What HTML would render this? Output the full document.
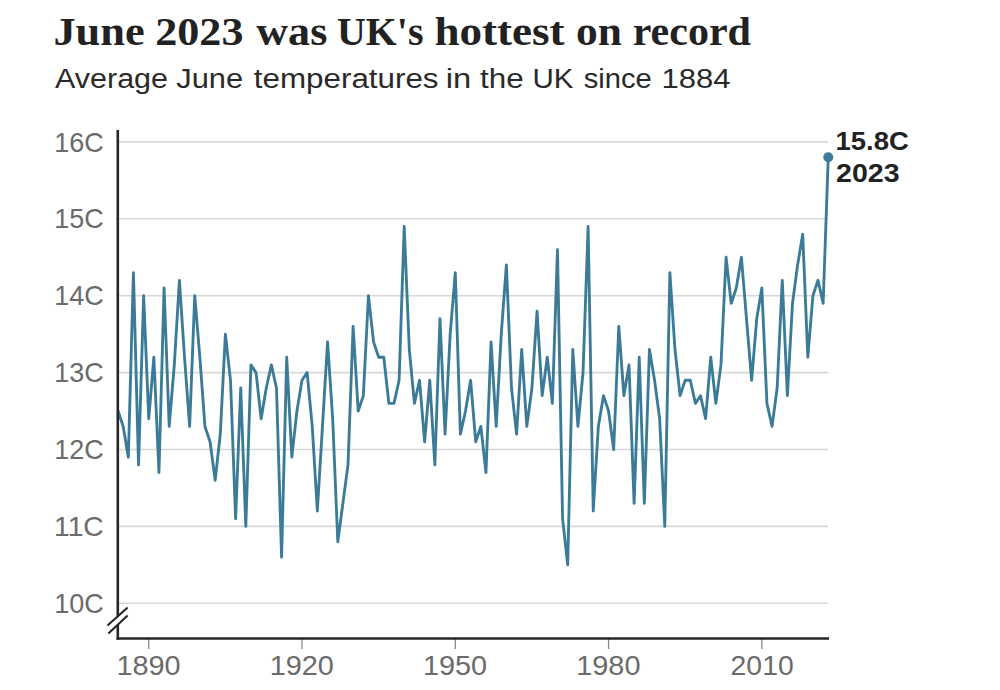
<!DOCTYPE html>
<html><head><meta charset="utf-8"><title>June 2023 was UK's hottest on record</title>
<style>
html,body{margin:0;padding:0;background:#fff;}
body{width:1000px;height:690px;position:relative;overflow:hidden;font-family:"Liberation Sans",sans-serif;}
svg{position:absolute;left:0;top:0;display:block;}
text{font-family:"Liberation Sans",sans-serif;}
text.t{font-family:"Liberation Serif",serif;font-weight:bold;font-size:41px;fill:#222;}
text.s{font-size:28px;fill:#2a2a2a;}
text.a{font-size:27px;fill:#6b6b6b;}
text.e{font-size:25px;font-weight:bold;fill:#222;}
</style></head><body>
<svg width="1000" height="690" viewBox="0 0 1000 690">
<g stroke="#d8d8d8" stroke-width="1.6"><line x1="119" x2="828" y1="603.30" y2="603.30"/><line x1="119" x2="828" y1="526.40" y2="526.40"/><line x1="119" x2="828" y1="449.50" y2="449.50"/><line x1="119" x2="828" y1="372.60" y2="372.60"/><line x1="119" x2="828" y1="295.70" y2="295.70"/><line x1="119" x2="828" y1="218.80" y2="218.80"/><line x1="119" x2="828" y1="141.90" y2="141.90"/></g>
<g stroke="#888" stroke-width="1.3"><line x1="148.75" x2="148.75" y1="639" y2="649"/><line x1="302.02" x2="302.02" y1="639" y2="649"/><line x1="455.29" x2="455.29" y1="639" y2="649"/><line x1="608.56" x2="608.56" y1="639" y2="649"/><line x1="761.83" x2="761.83" y1="639" y2="649"/></g>
<polyline fill="none" stroke="#3b7b98" stroke-width="2.85" stroke-linejoin="round" stroke-linecap="round" points="118.10,411.05 123.21,426.43 128.32,457.19 133.43,272.63 138.54,464.88 143.64,295.70 148.75,418.74 153.86,357.22 158.97,472.57 164.08,288.01 169.19,426.43 174.30,364.91 179.41,280.32 184.52,357.22 189.63,426.43 194.74,295.70 199.84,357.22 204.95,426.43 210.06,441.81 215.17,480.26 220.28,434.12 225.39,334.15 230.50,380.29 235.61,518.71 240.72,387.98 245.82,526.40 250.93,364.91 256.04,372.60 261.15,418.74 266.26,387.98 271.37,364.91 276.48,387.98 281.59,557.16 286.70,357.22 291.81,457.19 296.91,411.05 302.02,380.29 307.13,372.60 312.24,426.43 317.35,511.02 322.46,426.43 327.57,341.84 332.68,418.74 337.79,541.78 342.90,503.33 348.00,464.88 353.11,326.46 358.22,411.05 363.33,395.67 368.44,295.70 373.55,341.84 378.66,357.22 383.77,357.22 388.88,403.36 393.99,403.36 399.10,380.29 404.20,226.49 409.31,349.53 414.42,403.36 419.53,380.29 424.64,441.81 429.75,380.29 434.86,464.88 439.97,318.77 445.08,434.12 450.18,334.15 455.29,272.63 460.40,434.12 465.51,411.05 470.62,380.29 475.73,441.81 480.84,426.43 485.95,472.57 491.06,341.84 496.17,426.43 501.27,334.15 506.38,264.94 511.49,387.98 516.60,434.12 521.71,349.53 526.82,426.43 531.93,387.98 537.04,311.08 542.15,395.67 547.26,357.22 552.37,403.36 557.47,249.56 562.58,518.71 567.69,564.85 572.80,349.53 577.91,426.43 583.02,372.60 588.13,226.49 593.24,511.02 598.35,426.43 603.46,395.67 608.56,411.05 613.67,449.50 618.78,326.46 623.89,395.67 629.00,364.91 634.11,503.33 639.22,357.22 644.33,503.33 649.44,349.53 654.55,380.29 659.65,418.74 664.76,526.40 669.87,272.63 674.98,349.53 680.09,395.67 685.20,380.29 690.31,380.29 695.42,403.36 700.53,395.67 705.63,418.74 710.74,357.22 715.85,403.36 720.96,364.91 726.07,257.25 731.18,303.39 736.29,288.01 741.40,257.25 746.51,318.77 751.62,380.29 756.73,318.77 761.83,288.01 766.94,403.36 772.05,426.43 777.16,387.98 782.27,280.32 787.38,395.67 792.49,303.39 797.60,264.94 802.71,234.18 807.82,357.22 812.92,295.70 818.03,280.32 823.14,303.39 828.25,157.28"/>
<circle cx="828.25" cy="157.28" r="5" fill="#3b7b98"/>
<line x1="117.8" x2="117.8" y1="130" y2="639.8" stroke="#262626" stroke-width="2.6"/>
<line x1="116.5" x2="829" y1="638.5" y2="638.5" stroke="#262626" stroke-width="2.6"/>
<g stroke="#fff" stroke-width="5"><line x1="108" y1="629.5" x2="128" y2="611.5"/></g>
<g stroke="#222" stroke-width="2"><line x1="107.5" y1="625.4" x2="127.6" y2="607.4"/><line x1="108.4" y1="633.5" x2="127.6" y2="615.5"/></g>
<text class="t" transform="translate(53.42,45.00) scale(1.0830,1)">June</text>
<text class="t" transform="translate(155.22,45.00) scale(1.0770,1)">2023</text>
<text class="t" transform="translate(256.30,45.00) scale(1.0744,1)">was</text>
<text class="t" transform="translate(337.03,45.00) scale(0.9725,1)">UK's</text>
<text class="t" transform="translate(434.40,45.00) scale(1.0997,1)">hottest</text>
<text class="t" transform="translate(575.94,45.00) scale(1.0588,1)">on</text>
<text class="t" transform="translate(632.72,45.00) scale(1.0258,1)">record</text>
<text class="s" transform="translate(55.00,88.00) scale(1.0900,1)">Average</text>
<text class="s" transform="translate(176.30,88.00) scale(1.1007,1)">June</text>
<text class="s" transform="translate(253.80,88.00) scale(1.1204,1)">temperatures</text>
<text class="s" transform="translate(445.83,88.00) scale(1.1706,1)">in</text>
<text class="s" transform="translate(480.00,88.00) scale(1.1212,1)">the</text>
<text class="s" transform="translate(532.39,88.00) scale(1.0545,1)">UK</text>
<text class="s" transform="translate(583.75,88.00) scale(1.0418,1)">since</text>
<text class="s" transform="translate(661.53,88.00) scale(1.1094,1)">1884</text>
<text class="a" transform="translate(54.20,612.90) scale(0.9993,1)">10C</text>
<text class="a" transform="translate(54.11,536.00) scale(1.0438,1)">11C</text>
<text class="a" transform="translate(54.20,459.10) scale(0.9993,1)">12C</text>
<text class="a" transform="translate(54.20,382.20) scale(0.9993,1)">13C</text>
<text class="a" transform="translate(54.20,305.30) scale(0.9993,1)">14C</text>
<text class="a" transform="translate(54.20,228.40) scale(0.9993,1)">15C</text>
<text class="a" transform="translate(54.20,151.50) scale(0.9993,1)">16C</text>
<text class="a" transform="translate(116.42,674.70) scale(1.0693,1)">1890</text>
<text class="a" transform="translate(269.69,674.70) scale(1.0693,1)">1920</text>
<text class="a" transform="translate(422.96,674.70) scale(1.0693,1)">1950</text>
<text class="a" transform="translate(576.23,674.70) scale(1.0693,1)">1980</text>
<text class="a" transform="translate(730.58,674.70) scale(1.0508,1)">2010</text>
<text class="e" transform="translate(835.60,149.60) scale(1.0966,1)">15.8C</text>
<text class="e" transform="translate(836.00,182.40) scale(1.1424,1)">2023</text>
</svg>
</body></html>
